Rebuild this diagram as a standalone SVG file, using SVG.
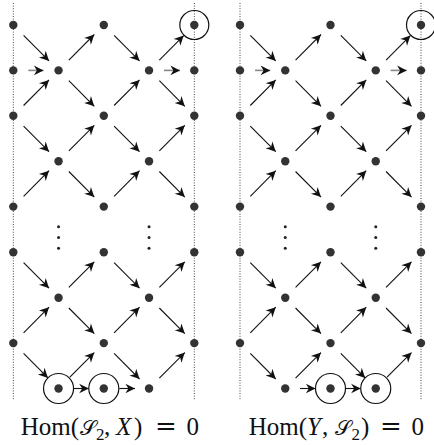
<svg xmlns="http://www.w3.org/2000/svg" width="434" height="445" viewBox="0 0 434 445">
<style>
.n{fill:#333}
.e{fill:#222}
.ring{fill:none;stroke:#111;stroke-width:1.2}
.dl{stroke:#444;stroke-width:1;stroke-dasharray:1 1.6;fill:none}
.a{stroke:#111;stroke-width:1.1;fill:none;marker-end:url(#ah)}
.g{stroke:#888;stroke-width:1.6;fill:none;marker-end:url(#ah)}
.t{font-family:"Liberation Serif","Times New Roman",serif;font-size:25px;fill:#111}
.s{font-size:21px}
.sub{font-size:17px}
.i{font-style:italic}
.eq{font-family:"DejaVu Serif",serif;font-size:26px}
</style>
<defs>
<marker id="ah" markerUnits="userSpaceOnUse" markerWidth="12" markerHeight="12" viewBox="-9 -5 10 10" refX="0" refY="0" orient="auto">
<path d="M0,0 L-8,-4 L-5.5,0 L-8,4 Z" fill="#111"/>
</marker>
</defs>
<rect width="434" height="445" fill="#fff"/>
<g id="guides">
<line class="dl" x1="13.3" y1="3" x2="13.3" y2="400"/>
<line class="dl" x1="194.3" y1="3" x2="194.3" y2="400"/>
<line class="dl" x1="240" y1="3" x2="240" y2="400"/>
<line class="dl" x1="421" y1="3" x2="421" y2="400"/>
</g>
<g id="connectors">
<!-- left -->
<line class="a" x1="23.6" y1="35.3" x2="49.05" y2="60.9"/>
<line class="a" x1="68.85" y1="60.1" x2="94.3" y2="34.5"/>
<line class="a" x1="114.1" y1="35.3" x2="139.55" y2="60.9"/>
<line class="a" x1="159.35" y1="60.1" x2="183.7" y2="35.6"/>
<line class="g" x1="28.3" y1="70.4" x2="43.5" y2="70.4"/>
<line class="g" x1="164" y1="70.4" x2="180" y2="70.4"/>
<line class="a" x1="23.6" y1="105.5" x2="49.05" y2="79.9"/>
<line class="a" x1="68.85" y1="80.7" x2="94.3" y2="106.3"/>
<line class="a" x1="114.1" y1="105.5" x2="139.55" y2="79.9"/>
<line class="a" x1="159.35" y1="80.7" x2="184.8" y2="106.3"/>
<line class="a" x1="23.6" y1="126.1" x2="49.05" y2="151.7"/>
<line class="a" x1="68.85" y1="150.9" x2="94.3" y2="125.3"/>
<line class="a" x1="114.1" y1="126.1" x2="139.55" y2="151.7"/>
<line class="a" x1="159.35" y1="150.9" x2="184.8" y2="125.3"/>
<line class="a" x1="23.6" y1="196.3" x2="49.05" y2="170.7"/>
<line class="a" x1="68.85" y1="171.5" x2="94.3" y2="197.1"/>
<line class="a" x1="114.1" y1="196.3" x2="139.55" y2="170.7"/>
<line class="a" x1="159.35" y1="171.5" x2="184.8" y2="197.1"/>
<line class="a" x1="23.6" y1="262.6" x2="49.05" y2="288.2"/>
<line class="a" x1="68.85" y1="287.4" x2="94.3" y2="261.8"/>
<line class="a" x1="114.1" y1="262.6" x2="139.55" y2="288.2"/>
<line class="a" x1="159.35" y1="287.4" x2="184.8" y2="261.8"/>
<line class="a" x1="23.6" y1="332.8" x2="49.05" y2="307.2"/>
<line class="a" x1="68.85" y1="308" x2="94.3" y2="333.6"/>
<line class="a" x1="114.1" y1="332.8" x2="139.55" y2="307.2"/>
<line class="a" x1="159.35" y1="308" x2="184.8" y2="333.6"/>
<line class="a" x1="23.6" y1="353.4" x2="47.95" y2="377.9"/>
<line class="a" x1="69.85" y1="377.2" x2="94.3" y2="352.6"/>
<line class="a" x1="114.1" y1="353.4" x2="139.55" y2="379"/>
<line class="a" x1="159.35" y1="378.2" x2="184.8" y2="352.6"/>
<line class="a" x1="74" y1="388.5" x2="88.8" y2="388.5"/>
<line class="a" x1="119.3" y1="388.5" x2="135" y2="388.5"/>
<!-- right -->
<line class="a" x1="250.3" y1="35.3" x2="275.75" y2="60.9"/>
<line class="a" x1="295.55" y1="60.1" x2="321" y2="34.5"/>
<line class="a" x1="340.8" y1="35.3" x2="366.25" y2="60.9"/>
<line class="a" x1="386.05" y1="60.1" x2="410.4" y2="35.6"/>
<line class="g" x1="255" y1="70.4" x2="270.2" y2="70.4"/>
<line class="g" x1="390.7" y1="70.4" x2="406.7" y2="70.4"/>
<line class="a" x1="250.3" y1="105.5" x2="275.75" y2="79.9"/>
<line class="a" x1="295.55" y1="80.7" x2="321" y2="106.3"/>
<line class="a" x1="340.8" y1="105.5" x2="366.25" y2="79.9"/>
<line class="a" x1="386.05" y1="80.7" x2="411.5" y2="106.3"/>
<line class="a" x1="250.3" y1="126.1" x2="275.75" y2="151.7"/>
<line class="a" x1="295.55" y1="150.9" x2="321" y2="125.3"/>
<line class="a" x1="340.8" y1="126.1" x2="366.25" y2="151.7"/>
<line class="a" x1="386.05" y1="150.9" x2="411.5" y2="125.3"/>
<line class="a" x1="250.3" y1="196.3" x2="275.75" y2="170.7"/>
<line class="a" x1="295.55" y1="171.5" x2="321" y2="197.1"/>
<line class="a" x1="340.8" y1="196.3" x2="366.25" y2="170.7"/>
<line class="a" x1="386.05" y1="171.5" x2="411.5" y2="197.1"/>
<line class="a" x1="250.3" y1="262.6" x2="275.75" y2="288.2"/>
<line class="a" x1="295.55" y1="287.4" x2="321" y2="261.8"/>
<line class="a" x1="340.8" y1="262.6" x2="366.25" y2="288.2"/>
<line class="a" x1="386.05" y1="287.4" x2="411.5" y2="261.8"/>
<line class="a" x1="250.3" y1="332.8" x2="275.75" y2="307.2"/>
<line class="a" x1="295.55" y1="308" x2="321" y2="333.6"/>
<line class="a" x1="340.8" y1="332.8" x2="366.25" y2="307.2"/>
<line class="a" x1="386.05" y1="308" x2="411.5" y2="333.6"/>
<line class="a" x1="250.3" y1="353.4" x2="275.75" y2="379"/>
<line class="a" x1="295.55" y1="378.2" x2="321" y2="352.6"/>
<line class="a" x1="340.8" y1="353.4" x2="365.15" y2="377.9"/>
<line class="a" x1="387.05" y1="377.2" x2="411.5" y2="352.6"/>
<line class="a" x1="300" y1="388.5" x2="315.5" y2="388.5"/>
<line class="a" x1="345.5" y1="388.5" x2="360.75" y2="388.5"/>
</g>
<!-- left nodes -->
<g id="L00"><circle class="n" cx="13.3" cy="25" r="4.2"/></g>
<g id="L20"><circle class="n" cx="103.8" cy="25" r="4.2"/></g>
<g id="L40"><circle class="n" cx="194.3" cy="25" r="4.2"/><circle class="ring" cx="194.3" cy="25" r="14.5"/></g>
<g id="L01"><circle class="n" cx="13.3" cy="70.4" r="4.2"/></g>
<g id="L11"><circle class="n" cx="58.55" cy="70.4" r="4.2"/></g>
<g id="L31"><circle class="n" cx="149.05" cy="70.4" r="4.2"/></g>
<g id="L41"><circle class="n" cx="194.3" cy="70.4" r="4.2"/></g>
<g id="L02"><circle class="n" cx="13.3" cy="115.8" r="4.2"/></g>
<g id="L22"><circle class="n" cx="103.8" cy="115.8" r="4.2"/></g>
<g id="L42"><circle class="n" cx="194.3" cy="115.8" r="4.2"/></g>
<g id="L13"><circle class="n" cx="58.55" cy="161.2" r="4.2"/></g>
<g id="L33"><circle class="n" cx="149.05" cy="161.2" r="4.2"/></g>
<g id="L04"><circle class="n" cx="13.3" cy="206.6" r="4.2"/></g>
<g id="L24"><circle class="n" cx="103.8" cy="206.6" r="4.2"/></g>
<g id="L44"><circle class="n" cx="194.3" cy="206.6" r="4.2"/></g>
<g id="Lvd1"><circle class="e" cx="58.55" cy="226.7" r="1.5"/><circle class="e" cx="58.55" cy="237.5" r="1.5"/><circle class="e" cx="58.55" cy="248.3" r="1.5"/></g>
<g id="Lvd3"><circle class="e" cx="149.05" cy="226.7" r="1.5"/><circle class="e" cx="149.05" cy="237.5" r="1.5"/><circle class="e" cx="149.05" cy="248.3" r="1.5"/></g>
<g id="L05"><circle class="n" cx="13.3" cy="252.3" r="4.2"/></g>
<g id="L25"><circle class="n" cx="103.8" cy="252.3" r="4.2"/></g>
<g id="L45"><circle class="n" cx="194.3" cy="252.3" r="4.2"/></g>
<g id="L16"><circle class="n" cx="58.55" cy="297.7" r="4.2"/></g>
<g id="L36"><circle class="n" cx="149.05" cy="297.7" r="4.2"/></g>
<g id="L07"><circle class="n" cx="13.3" cy="343.1" r="4.2"/></g>
<g id="L27"><circle class="n" cx="103.8" cy="343.1" r="4.2"/></g>
<g id="L47"><circle class="n" cx="194.3" cy="343.1" r="4.2"/></g>
<g id="L18"><circle class="n" cx="58.55" cy="388.5" r="4.2"/><circle class="ring" cx="58.55" cy="388.5" r="15"/></g>
<g id="L28"><circle class="n" cx="103.8" cy="388.5" r="4.2"/><circle class="ring" cx="103.8" cy="388.5" r="15"/></g>
<g id="L38"><circle class="n" cx="149.05" cy="388.5" r="4.2"/></g>
<!-- right nodes -->
<g id="R00"><circle class="n" cx="240" cy="25" r="4.2"/></g>
<g id="R20"><circle class="n" cx="330.5" cy="25" r="4.2"/></g>
<g id="R40"><circle class="n" cx="421" cy="25" r="4.2"/><circle class="ring" cx="421" cy="25" r="14.5"/></g>
<g id="R01"><circle class="n" cx="240" cy="70.4" r="4.2"/></g>
<g id="R11"><circle class="n" cx="285.25" cy="70.4" r="4.2"/></g>
<g id="R31"><circle class="n" cx="375.75" cy="70.4" r="4.2"/></g>
<g id="R41"><circle class="n" cx="421" cy="70.4" r="4.2"/></g>
<g id="R02"><circle class="n" cx="240" cy="115.8" r="4.2"/></g>
<g id="R22"><circle class="n" cx="330.5" cy="115.8" r="4.2"/></g>
<g id="R42"><circle class="n" cx="421" cy="115.8" r="4.2"/></g>
<g id="R13"><circle class="n" cx="285.25" cy="161.2" r="4.2"/></g>
<g id="R33"><circle class="n" cx="375.75" cy="161.2" r="4.2"/></g>
<g id="R04"><circle class="n" cx="240" cy="206.6" r="4.2"/></g>
<g id="R24"><circle class="n" cx="330.5" cy="206.6" r="4.2"/></g>
<g id="R44"><circle class="n" cx="421" cy="206.6" r="4.2"/></g>
<g id="Rvd1"><circle class="e" cx="285.25" cy="226.7" r="1.5"/><circle class="e" cx="285.25" cy="237.5" r="1.5"/><circle class="e" cx="285.25" cy="248.3" r="1.5"/></g>
<g id="Rvd3"><circle class="e" cx="375.75" cy="226.7" r="1.5"/><circle class="e" cx="375.75" cy="237.5" r="1.5"/><circle class="e" cx="375.75" cy="248.3" r="1.5"/></g>
<g id="R05"><circle class="n" cx="240" cy="252.3" r="4.2"/></g>
<g id="R25"><circle class="n" cx="330.5" cy="252.3" r="4.2"/></g>
<g id="R45"><circle class="n" cx="421" cy="252.3" r="4.2"/></g>
<g id="R16"><circle class="n" cx="285.25" cy="297.7" r="4.2"/></g>
<g id="R36"><circle class="n" cx="375.75" cy="297.7" r="4.2"/></g>
<g id="R07"><circle class="n" cx="240" cy="343.1" r="4.2"/></g>
<g id="R27"><circle class="n" cx="330.5" cy="343.1" r="4.2"/></g>
<g id="R47"><circle class="n" cx="421" cy="343.1" r="4.2"/></g>
<g id="R18"><circle class="n" cx="285.25" cy="388.5" r="4.2"/></g>
<g id="R28"><circle class="n" cx="330.5" cy="388.5" r="4.2"/><circle class="ring" cx="330.5" cy="388.5" r="15"/></g>
<g id="R38"><circle class="n" cx="375.75" cy="388.5" r="4.2"/><circle class="ring" cx="375.75" cy="388.5" r="15"/></g>
<g id="captions">
<text class="t" x="20.7" y="435">Hom(<tspan class="s" x="79.5">𝒮</tspan><tspan class="sub" x="96" y="440">2</tspan><tspan x="104" y="435">,</tspan><tspan class="i" x="116">X</tspan><tspan x="134">)</tspan><tspan class="eq" x="155">=</tspan><tspan x="186.5">0</tspan></text>
<text class="t" x="248.7" y="435">Hom(<tspan class="i" x="307">Y</tspan><tspan x="322">,</tspan><tspan class="s" x="335">𝒮</tspan><tspan class="sub" x="351.5" y="440">2</tspan><tspan x="361" y="435">)</tspan><tspan class="eq" x="380">=</tspan><tspan x="411.5">0</tspan></text>
</g>
</svg>
